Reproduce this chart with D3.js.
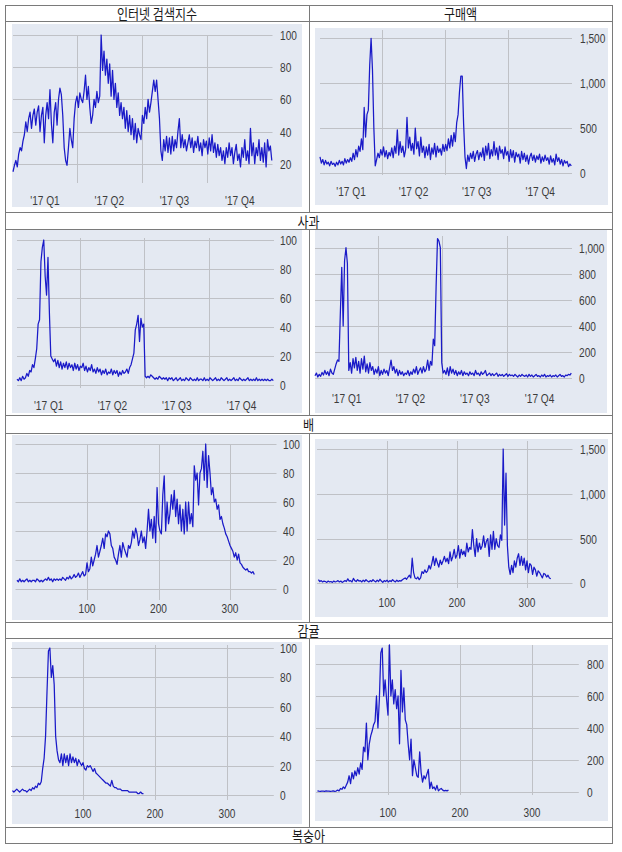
<!DOCTYPE html>
<html><head><meta charset="utf-8">
<script src="https://cdn.jsdelivr.net/npm/d3@7"></script>
<style>html,body{margin:0;padding:0;background:#fff;}</style>
</head><body>
<svg id="c" width="622" height="852"></svg>
<script>
// ---------- DATA ----------
const colHeaders = ["인터넷 검색지수", "구매액"];
const rowLabels = ["사과", "배", "감귤", "복숭아"];
const quarterLabels = ["'17 Q1", "'17 Q2", "'17 Q3", "'17 Q4"];
const dayTicks = [100, 200, 300];

const searchAppleTicks = [20, 40, 60, 80, 100];
const salesAppleTicks = [0, 500, 1000, 1500];
const searchPearTicks = [0, 20, 40, 60, 80, 100];
const salesPearTicks = [0, 200, 400, 600, 800, 1000];
const searchCitrusTicks = [0, 20, 40, 60, 80, 100];
const salesCitrusTicks = [0, 500, 1000, 1500];
const searchPeachTicks = [0, 20, 40, 60, 80, 100];
const salesPeachTicks = [0, 200, 400, 600, 800];

// 사과 (2017, every 2nd day)
const searchApple = [
15,19,22,18,26,30,28, 34,38,46,40,48,52,42, 50,54,44,52,56,40,50, 55,33,50,58,48,66,45,
33,52,58,44,60,67,63, 50,30,22,19,30,42,35, 30,48,58,62,55,64,60, 58,65,75,60,68,55,45,
50,60,55,65,58,62,100, 78,90,75,85,70,82,62, 78,60,70,55,64,50,58, 48,55,42,53,40,50,38,
48,35,45,33,42,38,35, 50,45,55,48,60,52,58, 65,72,65,72,60,48,28, 22,35,28,37,27,36,26,
37,28,35,30,40,48,30, 38,30,35,28,33,38,30, 36,27,34,30,37,28,33, 25,35,30,34,26,36,28,
38,27,33,24,32,25,30, 22,28,20,30,24,33,25, 30,20,27,32,22,26,18, 30,24,35,22,28,20,42,
25,33,20,30,25,35,22, 30,21,33,18,35,28,31, 22];
const salesApple = [
180,110,150,90,140,100,120, 80,130,95,110,75,120,90, 140,100,130,90,160,110,150,
120,170,130,220,150,260,180, 300,240,380,260,730,400,650, 700,1200,1500,1150,500,80,150,
220,170,260,200,290,180,250, 160,230,190,280,170,300,220, 480,200,350,230,300,180,260,
620,280,400,250,330,210,500, 270,350,190,400,230,300,170, 290,200,320,150,280,210,330,
180,300,230,270,200,320,240, 320,250,380,280,420,300,450, 350,560,650,900,1080,1080,550,
180,50,200,130,220,160,240, 130,210,250,150,230,180,280, 140,300,200,330,160,260,190,
350,200,280,150,300,220,260, 160,290,200,240,130,260,170, 250,120,230,180,210,110,240,
150,220,130,200,100,180,220, 140,200,120,190,150,210,110, 180,130,200,140,170,100,190,
120,160,90,210,130,170,100, 150,80,140,110,130,70,100, 80];

// 배 (2017, every 2nd day)
const searchPear = [
4,3,5,3,6,4,5, 8,6,10,9,14,12,18, 25,42,45,85,95,100,75, 62,88,50,20,18,16,18,
13,17,12,16,11,15,12, 16,11,15,12,14,10,15, 11,14,10,13,12,15,10, 13,9,12,10,14,9,11,
8,12,9,11,7,10,8, 11,7,9,8,11,7,10, 8,10,6,9,7,10,8, 9,11,8,12,14,18,22,
38,42,48,30,46,40,42, 6,5,6,5,7,6,5, 4,5,4,6,5,4,5, 4,5,3,5,4,5,3,
4,5,3,4,5,3,4, 3,5,4,3,5,4,3, 4,3,5,3,4,4,3, 5,3,4,3,5,4,3,
4,5,3,4,3,5,4, 3,4,5,3,4,3,4, 5,3,4,3,5,4,3, 4,3,4,5,3,4,3,
4,3,5,3,4,3,4, 3,4,3,4,3,3,4, 3];
const salesPear = [
20,40,10,30,15,45,25, 60,30,50,20,70,40,30, 70,110,140,130,500,850,400, 900,1000,880,60,120,40,150,
80,160,60,130,40,150,70, 170,50,110,40,120,60,90, 30,70,40,90,20,60,30, 70,40,60,20,80,140,60,
90,40,70,20,60,30,50, 20,40,30,60,20,50,30, 70,40,90,30,60,80,40, 90,50,70,140,60,130,100,
300,250,700,1070,1050,1000,120, 40,60,30,80,20,90,40, 70,30,60,20,50,30,60, 20,50,30,40,20,50,30,
40,20,60,30,40,20,50, 30,40,60,20,30,40,20, 35,20,30,40,15,30,20, 30,15,25,35,15,30,20,
25,15,30,20,10,25,15, 30,20,15,25,10,30,15, 25,10,20,30,15,20,10, 25,15,30,10,20,15,25,
10,20,15,25,10,20,30, 15,20,10,25,20,30,25, 40];

// 감귤 (day 2 .. 334, every 2nd day)
const searchCitrus = [
6,5,7,5,6,5,6,7,5,6, 5,6,6,5,7,6,5,6,5,6, 7,6,8,6,7,5,7,6,7,6, 7,6,8,7,6,8,7,9,7,8,
10,8,9,11,8,10,12,9,10,18, 12,14,22,16,20,24,30,22,26,30, 35,28,38,36,40,38,30,28,22,20,
17,24,30,22,32,28,25,22,30,28, 32,40,35,42,38,30,34,40,32,36, 28,40,55,40,48,35,50,32,70,45,
40,38,65,78,40,60,45,52,65,55, 68,50,62,45,58,40,55,38,60,40, 60,45,52,43,85,75,80,58,80,83,
95,75,100,70,92,80,65,70,60,62, 55,58,48,50,45,42,38,36,33,30, 28,26,22,25,20,24,18,17,15,14,
13,14,12,12,11,12,10];
const salesCitrus = [
40,20,30,15,25,20,10,25,15,20, 10,25,15,20,30,15,25,10,20,30, 20,50,25,30,15,55,30,20,40,25,
30,15,35,20,40,25,15,30,20,40, 25,15,35,20,45,25,10,30,20,35, 15,30,20,40,25,15,35,20,30,25,
40,50,60,45,70,90,60,280,120,60, 50,70,40,60,130,110,150,120,140,200, 160,220,300,200,280,230,180,260,210,250,
300,240,280,220,350,250,300,380,280,320, 420,280,380,320,360,300,450,350,400,380, 600,420,300,500,350,450,380,420,530,400,
470,500,300,540,380,580,380,500,420,400, 540,480,1500,650,1230,420,180,100,200,120, 250,180,280,330,200,300,200,280,150,250,
120,220,200,100,180,150,80,140,120,90, 60,110,100,70,90,60,50];

// 복숭아 (day 2 .. 184, every 2nd day)
const searchPeach = [
3,2,3,4,3,2,3,4,3,3, 2,3,4,3,5,4,6,5,8,7, 9,18,25,40,70,98,100,80,88,75,
40,30,24,22,28,20,28,22,27,20, 28,22,26,22,25,20,24,22,20,22, 18,17,20,19,20,18,16,18,15,14,
13,12,11,10,9,8,8,7,6,10, 6,5,5,4,4,4,3,3,3,3, 3,2,2,2,2,2,2,1,1,2, 1,1];
const salesPeach = [
5,3,2,4,3,2,5,3,4,2, 3,5,2,4,10,5,20,15,30,20, 40,60,100,50,120,80,130,100,150,110,
180,140,280,250,430,200,300,350,380,420, 440,600,400,580,870,900,600,700,580,480,
920,600,700,550,640,520,600,300,760,500, 650,450,420,300,200,330,100,200,150,100,
90,250,120,60,100,80,110,140,20,60, 20,30,10,40,5,15,20,10,5,8, 5,10];

// ---------- LAYOUT ----------
const svg = d3.select("#c");
const BORDER = "#7a7a7a";
const NUMFONT = "'Liberation Sans', Arial, sans-serif";
const KFONT = "'Noto Sans CJK KR', sans-serif";
const fmt = d3.format(",");

function txt(x, y, s, o) {
  svg.append("text")
    .attr("transform", `translate(${x},${y}) scale(${o.sx},1)`)
    .attr("text-anchor", o.anchor || "middle")
    .attr("dominant-baseline", "central")
    .attr("font-family", o.font)
    .attr("font-size", o.size)
    .attr("fill", o.fill)
    .text(s);
}

const panels = [
  {vals: searchApple, ticks: searchAppleTicks, type: "date", start: 0, bg: [12,24,302,207], xr: [13,272.5], vt: 35, vb: 183, yd: [20,100], yr: [163.7,35], lx: 280, xly: 200},
  {vals: salesApple, ticks: salesAppleTicks, type: "date", start: 0, bg: [315,28,608,205], xr: [320,572], vt: 30, vb: 175, yd: [0,1500], yr: [173,38.3], lx: 580, xly: 191},
  {vals: searchPear, ticks: searchPearTicks, type: "date", start: 0, bg: [12,230,302,413], xr: [17,274], vt: 238, vb: 388, yd: [0,100], yr: [385,240], lx: 280, xly: 405},
  {vals: salesPear, ticks: salesPearTicks, type: "date", start: 0, bg: [315,230,607,413], xr: [315,572], vt: 236, vb: 380, yd: [0,1000], yr: [378.3,247.7], lx: 579, xly: 398},
  {vals: searchCitrus, ticks: searchCitrusTicks, type: "day", start: 2, bg: [12,435,302,620], xr: [15.5,276.5], vt: 444, vb: 600, yd: [0,100], yr: [589,444], lx: 283, xly: 608},
  {vals: salesCitrus, ticks: salesCitrusTicks, type: "day", start: 2, bg: [315,439,608,617], xr: [317,572.5], vt: 441, vb: 588, yd: [0,1500], yr: [583.3,449], lx: 580, xly: 602},
  {vals: searchPeach, ticks: searchPeachTicks, type: "day", start: 2, bg: [12,642,302,824], xr: [11,273.8], vt: 645, vb: 800, yd: [0,100], yr: [795,648], lx: 280, xly: 813},
  {vals: salesPeach, ticks: salesPeachTicks, type: "day", start: 2, bg: [315,645,608,821], xr: [316,578.8], vt: 645, vb: 795, yd: [0,800], yr: [791.7,664], lx: 587, xly: 812}
];

panels.forEach(p => {
  const g = svg.append("g");
  g.append("rect").attr("x", p.bg[0]).attr("y", p.bg[1])
    .attr("width", p.bg[2]-p.bg[0]).attr("height", p.bg[3]-p.bg[1]).attr("fill", "#e4e9f2");
  const y = d3.scaleLinear().domain(p.yd).range(p.yr);
  let x, pts, vgrid, xlabels;
  if (p.type === "date") {
    const d0 = new Date(2017,0,1), d1 = new Date(2018,0,1);
    x = d3.scaleTime().domain([d0, d1]).range(p.xr);
    pts = p.vals.map((v,i) => [x(d3.timeDay.offset(d0, p.start + i*2)), y(v)]);
    const qs = d3.timeMonth.every(3).range(d0, d1);
    vgrid = qs.slice(1).map(d => x(d));
    xlabels = quarterLabels.map((s,i) => {
      const a = qs[i], b = i < 3 ? qs[i+1] : d1;
      return [ (x(a)+x(b))/2, s ];
    });
  } else {
    x = d3.scaleLinear().domain([0,365]).range(p.xr);
    pts = p.vals.map((v,i) => [x(p.start + i*2), y(v)]);
    vgrid = dayTicks.map(d => x(d));
    xlabels = dayTicks.map(d => [x(d), String(d)]);
  }
  g.selectAll(".hg").data(p.ticks).join("line")
    .attr("x1", p.xr[0]).attr("x2", p.xr[1])
    .attr("y1", d => Math.round(y(d))+0.5).attr("y2", d => Math.round(y(d))+0.5)
    .attr("stroke", "#bfc1c6").attr("stroke-width", 1);
  g.selectAll(".vg").data(vgrid).join("line")
    .attr("x1", d => Math.round(d)+0.5).attr("x2", d => Math.round(d)+0.5)
    .attr("y1", p.vt).attr("y2", p.vb)
    .attr("stroke", "#bfc1c6").attr("stroke-width", 1);
  g.append("path").datum(pts)
    .attr("d", d3.line())
    .attr("fill", "none").attr("stroke", "#1a1ac8").attr("stroke-width", 1.25)
    .attr("stroke-linejoin", "round");
  p.ticks.forEach(t => txt(p.lx, y(t), fmt(t), {sx: 0.78, anchor: "start", font: NUMFONT, size: 13, fill: "#3c3c3c"}));
  xlabels.forEach(([px, s]) => txt(px, p.xly, s, {sx: 0.78, font: NUMFONT, size: 13, fill: "#3c3c3c"}));
});

// ---------- TABLE ----------
const T = {l: 5, r: 612, t: 5, b: 843, mid: 309};
const hLines = [21, 212, 229, 415, 433, 622, 638, 827];
const tg = svg.append("g").attr("stroke", BORDER).attr("stroke-width", 1).attr("fill", "none");
tg.append("rect").attr("x", T.l+0.5).attr("y", T.t+0.5).attr("width", T.r-T.l).attr("height", T.b-T.t);
hLines.forEach(yy => tg.append("line").attr("x1", T.l).attr("x2", T.r+0.5).attr("y1", yy+0.5).attr("y2", yy+0.5));
[[T.t,21],[21,212],[229,415],[433,622],[638,827]].forEach(([a,b]) =>
  tg.append("line").attr("x1", T.mid+0.5).attr("x2", T.mid+0.5).attr("y1", a).attr("y2", b));

const kOpt = {sx: 0.86, font: KFONT, size: 14, fill: "#1a1a1a"};
txt((T.l+T.mid)/2, 13.5, colHeaders[0], kOpt);
txt((T.mid+T.r)/2, 13.5, colHeaders[1], kOpt);
const labelRows = [[212,229],[415,433],[622,638],[827,843]];
rowLabels.forEach((s,i) => txt((T.l+T.r)/2, (labelRows[i][0]+labelRows[i][1])/2 + 0.5, s, kOpt));
</script>
</body></html>
